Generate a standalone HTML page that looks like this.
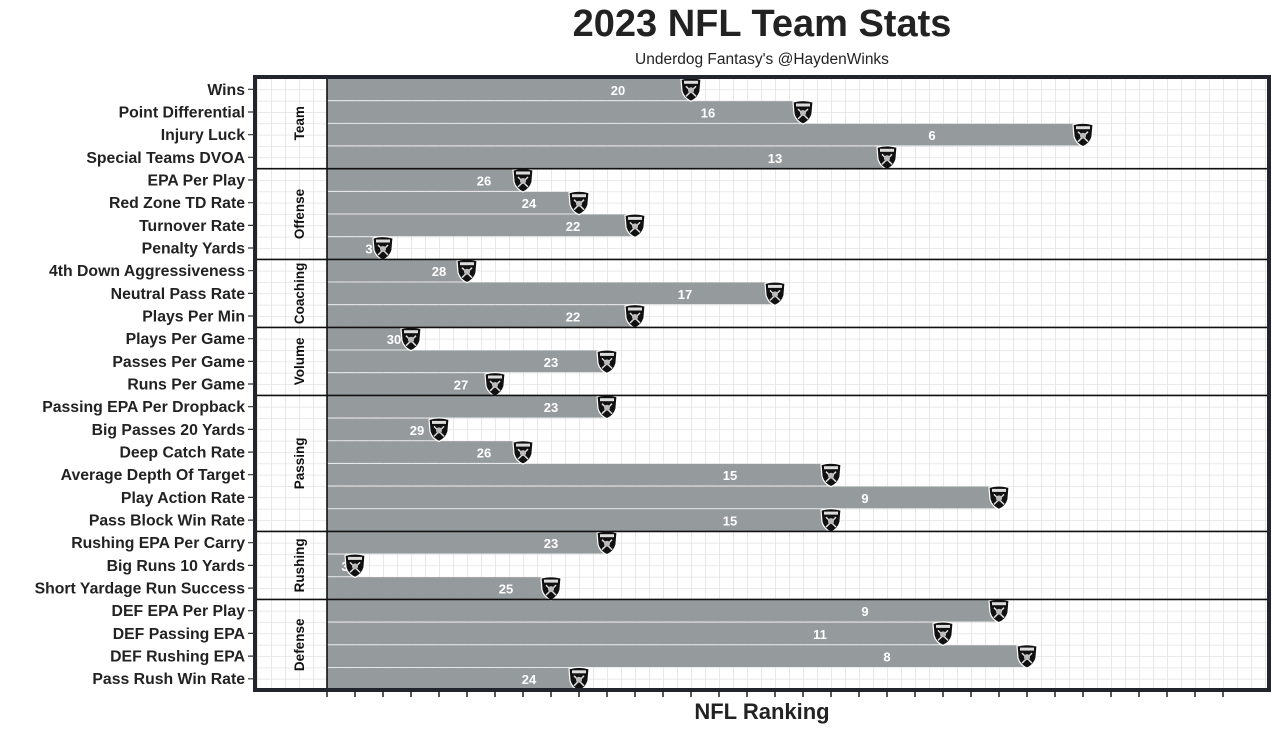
<!DOCTYPE html>
<html><head><meta charset="utf-8"><style>
body{margin:0;background:#fff;}
svg{display:block;font-family:"Liberation Sans",Arial,sans-serif;}
.yl{font-size:15.8px;font-weight:bold;fill:#222;text-anchor:end;}
.bl{font-size:13px;font-weight:bold;fill:#fff;text-anchor:middle;}
.st{font-size:13.5px;font-weight:bold;fill:#111;text-anchor:middle;}
</style></head><body>
<svg width="1280" height="732" viewBox="0 0 1280 732">
<defs>
<pattern id="gv" x="5" y="0" width="14" height="2000" patternUnits="userSpaceOnUse"><line x1="0" y1="0" x2="0" y2="2000" stroke="#e2e2e2" stroke-width="1.6"/></pattern>
<pattern id="gh" x="0" y="78" width="2000" height="11.335" patternUnits="userSpaceOnUse"><line x1="0" y1="0" x2="2000" y2="0" stroke="#e2e2e2" stroke-width="1.6"/></pattern>
<g id="logo"><path d="M-10,-10 Q0,-13 10,-10 L9,2 Q7,9 0,12 Q-7,9 -9,2 Z" fill="#111" stroke="#fff" stroke-width="1.2"/><rect x="-7" y="-8.5" width="14" height="3" fill="#ddd"/><path d="M-5,-3 L5,7 M5,-3 L-5,7" stroke="#ddd" stroke-width="1.5"/><circle cx="0" cy="1" r="3" fill="#bbb"/></g>
</defs>
<text x="762" y="36" font-size="38" font-weight="bold" fill="#222" text-anchor="middle">2023 NFL Team Stats</text>
<text x="762" y="64" font-size="15.5" fill="#222" text-anchor="middle">Underdog Fantasy's @HaydenWinks</text>
<rect x="254" y="77" width="1016" height="613" fill="url(#gv)"/>
<rect x="254" y="77" width="1016" height="613" fill="url(#gh)"/>
<g fill="#959a9c">
<rect x="327" y="78.5" width="364" height="21.7"/>
<rect x="327" y="101.2" width="476" height="21.7"/>
<rect x="327" y="123.8" width="756" height="21.7"/>
<rect x="327" y="146.5" width="560" height="21.7"/>
<rect x="327" y="169.2" width="196" height="21.7"/>
<rect x="327" y="191.9" width="252" height="21.7"/>
<rect x="327" y="214.5" width="308" height="21.7"/>
<rect x="327" y="237.2" width="56" height="21.7"/>
<rect x="327" y="259.9" width="140" height="21.7"/>
<rect x="327" y="282.5" width="448" height="21.7"/>
<rect x="327" y="305.2" width="308" height="21.7"/>
<rect x="327" y="327.9" width="84" height="21.7"/>
<rect x="327" y="350.5" width="280" height="21.7"/>
<rect x="327" y="373.2" width="168" height="21.7"/>
<rect x="327" y="395.9" width="280" height="21.7"/>
<rect x="327" y="418.6" width="112" height="21.7"/>
<rect x="327" y="441.2" width="196" height="21.7"/>
<rect x="327" y="463.9" width="504" height="21.7"/>
<rect x="327" y="486.6" width="672" height="21.7"/>
<rect x="327" y="509.2" width="504" height="21.7"/>
<rect x="327" y="531.9" width="280" height="21.7"/>
<rect x="327" y="554.6" width="28" height="21.7"/>
<rect x="327" y="577.2" width="224" height="21.7"/>
<rect x="327" y="599.9" width="672" height="21.7"/>
<rect x="327" y="622.6" width="616" height="21.7"/>
<rect x="327" y="645.3" width="700" height="21.7"/>
<rect x="327" y="667.9" width="252" height="21.7"/>
</g>
<g>
<text class="bl" x="618" y="94.8">20</text>
<text class="bl" x="708" y="117.5">16</text>
<text class="bl" x="932" y="140.1">6</text>
<text class="bl" x="775" y="162.8">13</text>
<text class="bl" x="484" y="185.5">26</text>
<text class="bl" x="529" y="208.2">24</text>
<text class="bl" x="573" y="230.8">22</text>
<text class="bl" x="369" y="253.5">3</text>
<text class="bl" x="439" y="276.2">28</text>
<text class="bl" x="685" y="298.8">17</text>
<text class="bl" x="573" y="321.5">22</text>
<text class="bl" x="394" y="344.2">30</text>
<text class="bl" x="551" y="366.8">23</text>
<text class="bl" x="461" y="389.5">27</text>
<text class="bl" x="551" y="412.2">23</text>
<text class="bl" x="417" y="434.9">29</text>
<text class="bl" x="484" y="457.5">26</text>
<text class="bl" x="730" y="480.2">15</text>
<text class="bl" x="865" y="502.9">9</text>
<text class="bl" x="730" y="525.5">15</text>
<text class="bl" x="551" y="548.2">23</text>
<text class="bl" x="345" y="570.9">3</text>
<text class="bl" x="506" y="593.5">25</text>
<text class="bl" x="865" y="616.2">9</text>
<text class="bl" x="820" y="638.9">11</text>
<text class="bl" x="887" y="661.6">8</text>
<text class="bl" x="529" y="684.2">24</text>
</g>
<use href="#logo" x="691" y="89.3"/><use href="#logo" x="803" y="112"/><use href="#logo" x="1083" y="134.7"/><use href="#logo" x="887" y="157.3"/>
<use href="#logo" x="523" y="180"/><use href="#logo" x="579" y="202.7"/><use href="#logo" x="635" y="225.4"/><use href="#logo" x="383" y="248"/>
<use href="#logo" x="467" y="270.7"/><use href="#logo" x="775" y="293.4"/><use href="#logo" x="635" y="316"/>
<use href="#logo" x="411" y="338.7"/><use href="#logo" x="607" y="361.4"/><use href="#logo" x="495" y="384"/>
<use href="#logo" x="607" y="406.7"/><use href="#logo" x="439" y="429.4"/><use href="#logo" x="523" y="452.1"/><use href="#logo" x="831" y="474.7"/><use href="#logo" x="999" y="497.4"/><use href="#logo" x="831" y="520.1"/>
<use href="#logo" x="607" y="542.7"/><use href="#logo" x="355" y="565.4"/><use href="#logo" x="551" y="588.1"/>
<use href="#logo" x="999" y="610.7"/><use href="#logo" x="943" y="633.4"/><use href="#logo" x="1027" y="656.1"/><use href="#logo" x="579" y="678.8"/>
<g stroke="#111" stroke-width="1.6">
<line x1="327" y1="77" x2="327" y2="690"/>
<line x1="254" y1="168.7" x2="1270" y2="168.7"/>
<line x1="254" y1="259.4" x2="1270" y2="259.4"/>
<line x1="254" y1="327.4" x2="1270" y2="327.4"/>
<line x1="254" y1="395.4" x2="1270" y2="395.4"/>
<line x1="254" y1="531.4" x2="1270" y2="531.4"/>
<line x1="254" y1="599.4" x2="1270" y2="599.4"/>
</g>
<rect x="255" y="77" width="1014" height="613" fill="none" stroke="#22252d" stroke-width="4"/>
<g>
<text class="st" transform="translate(304,123.3) rotate(-90)">Team</text>
<text class="st" transform="translate(304,214) rotate(-90)">Offense</text>
<text class="st" transform="translate(304,293.4) rotate(-90)">Coaching</text>
<text class="st" transform="translate(304,361.4) rotate(-90)">Volume</text>
<text class="st" transform="translate(304,463.4) rotate(-90)">Passing</text>
<text class="st" transform="translate(304,565.4) rotate(-90)">Rushing</text>
<text class="st" transform="translate(304,644.8) rotate(-90)">Defense</text>
</g>
<g>
<text class="yl" x="245" y="94.8">Wins</text>
<text class="yl" x="245" y="117.5">Point Differential</text>
<text class="yl" x="245" y="140.1">Injury Luck</text>
<text class="yl" x="245" y="162.8">Special Teams DVOA</text>
<text class="yl" x="245" y="185.5">EPA Per Play</text>
<text class="yl" x="245" y="208.2">Red Zone TD Rate</text>
<text class="yl" x="245" y="230.8">Turnover Rate</text>
<text class="yl" x="245" y="253.5">Penalty Yards</text>
<text class="yl" x="245" y="276.2">4th Down Aggressiveness</text>
<text class="yl" x="245" y="298.8">Neutral Pass Rate</text>
<text class="yl" x="245" y="321.5">Plays Per Min</text>
<text class="yl" x="245" y="344.2">Plays Per Game</text>
<text class="yl" x="245" y="366.8">Passes Per Game</text>
<text class="yl" x="245" y="389.5">Runs Per Game</text>
<text class="yl" x="245" y="412.2">Passing EPA Per Dropback</text>
<text class="yl" x="245" y="434.9">Big Passes 20 Yards</text>
<text class="yl" x="245" y="457.5">Deep Catch Rate</text>
<text class="yl" x="245" y="480.2">Average Depth Of Target</text>
<text class="yl" x="245" y="502.9">Play Action Rate</text>
<text class="yl" x="245" y="525.5">Pass Block Win Rate</text>
<text class="yl" x="245" y="548.2">Rushing EPA Per Carry</text>
<text class="yl" x="245" y="570.9">Big Runs 10 Yards</text>
<text class="yl" x="245" y="593.5">Short Yardage Run Success</text>
<text class="yl" x="245" y="616.2">DEF EPA Per Play</text>
<text class="yl" x="245" y="638.9">DEF Passing EPA</text>
<text class="yl" x="245" y="661.6">DEF Rushing EPA</text>
<text class="yl" x="245" y="684.2">Pass Rush Win Rate</text>
</g>
<path d="M248,89.3h6M248,112h6M248,134.7h6M248,157.3h6M248,180h6M248,202.7h6M248,225.4h6M248,248h6M248,270.7h6M248,293.4h6M248,316h6M248,338.7h6M248,361.4h6M248,384h6M248,406.7h6M248,429.4h6M248,452.1h6M248,474.7h6M248,497.4h6M248,520.1h6M248,542.7h6M248,565.4h6M248,588.1h6M248,610.7h6M248,633.4h6M248,656.1h6M248,678.8h6" stroke="#333" stroke-width="1.2"/>
<path d="M327,691v6M355,691v6M383,691v6M411,691v6M439,691v6M467,691v6M495,691v6M523,691v6M551,691v6M579,691v6M607,691v6M635,691v6M663,691v6M691,691v6M719,691v6M747,691v6M775,691v6M803,691v6M831,691v6M859,691v6M887,691v6M915,691v6M943,691v6M971,691v6M999,691v6M1027,691v6M1055,691v6M1083,691v6M1111,691v6M1139,691v6M1167,691v6M1195,691v6M1223,691v6" stroke="#222" stroke-width="1.5"/>
<text x="762" y="719" font-size="22" font-weight="bold" fill="#222" text-anchor="middle">NFL Ranking</text>
</svg>
</body></html>
